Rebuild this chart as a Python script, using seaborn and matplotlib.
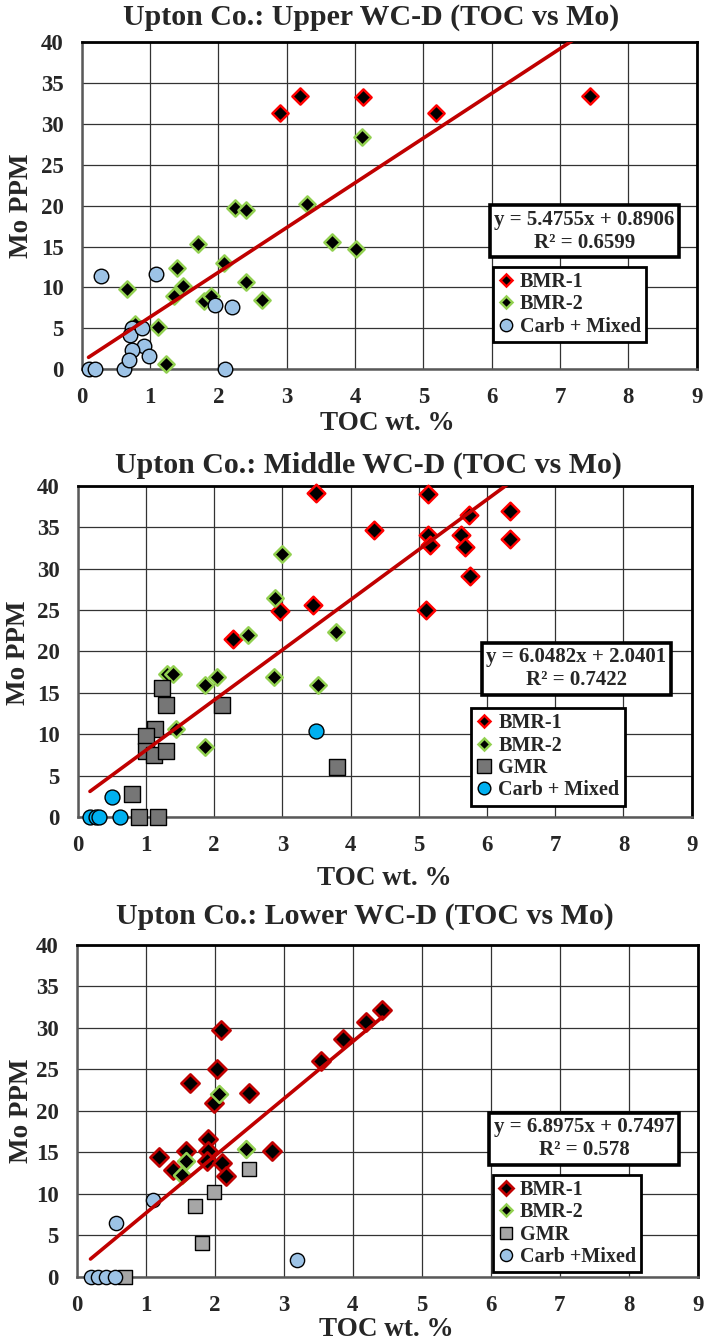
import matplotlib
matplotlib.use("Agg")
import matplotlib.pyplot as plt
import numpy as np
import pandas as pd
import seaborn as sns
from matplotlib.lines import Line2D

sns.set_theme(style="white")
plt.rcParams['font.family'] = ['Liberation Serif', 'DejaVu Serif']
plt.rcParams['font.weight'] = 'bold'

# ---------------- Upper WC-D ----------------
up_bmr1_toc = [2.90, 3.20, 4.11, 5.19, 7.44]
up_bmr1_mo = [31.3, 33.4, 33.3, 31.3, 33.4]
up_bmr2_toc = [0.66, 0.78, 1.12, 1.23, 1.35, 1.39, 1.48, 1.70, 1.79, 1.89, 2.08,
               2.25, 2.40, 2.40, 2.64, 3.29, 3.66, 4.01, 4.10]
up_bmr2_mo = [9.8, 5.5, 5.2, 0.6, 9.0, 12.4, 10.2, 15.3, 8.3, 8.9, 13.0,
              19.7, 19.5, 10.65, 8.5, 20.2, 15.5, 14.65, 28.4]
up_carb_toc = [0.10, 0.20, 0.62, 2.10, 0.28, 1.08, 1.95, 2.20, 0.73, 0.70,
               0.88, 0.91, 0.74, 0.69, 0.985]
up_carb_mo = [0.0, 0.0, 0.0, 0.0, 11.4, 11.6, 7.8, 7.55, 5.0, 4.2,
              5.0, 2.8, 2.3, 1.1, 1.6]
up_fit = (5.4755, 0.8906, 0.6599)

# ---------------- Middle WC-D ----------------
mid_bmr1_toc = [3.50, 3.455, 2.96, 2.28, 5.13, 4.35, 5.14, 5.17, 5.11, 5.62,
                5.68, 5.73, 5.75, 6.33, 6.34]
mid_bmr1_mo = [39.1, 25.6, 24.9, 21.5, 39.0, 34.6, 34.1, 32.8, 25.0, 34.05,
               32.6, 36.4, 29.1, 36.95, 33.6]
mid_bmr2_toc = [2.99, 2.89, 2.50, 3.78, 2.04, 1.86, 2.88, 3.52, 1.31, 1.39, 1.44, 1.86]
mid_bmr2_mo = [31.8, 26.5, 21.95, 22.35, 16.9, 15.9, 16.9, 16.0, 17.25, 17.3, 10.65, 8.45]
mid_gmr_toc = [1.23, 1.29, 2.12, 1.13, 1.00, 1.00, 1.12, 1.29, 3.80, 0.79, 0.90, 1.18]
mid_gmr_mo = [15.6, 13.6, 13.6, 10.6, 9.8, 8.0, 7.5, 8.0, 6.1, 2.8, 0.0, 0.0]
mid_carb_toc = [3.50, 0.51, 0.18, 0.27, 0.31, 0.62]
mid_carb_mo = [10.4, 2.4, 0.0, 0.0, 0.0, 0.0]
mid_fit = (6.0482, 2.0401, 0.7422)

# ---------------- Lower WC-D ----------------
low_bmr1_toc = [2.09, 2.04, 1.64, 2.49, 1.99, 1.90, 1.91, 1.59, 1.89, 2.10,
                1.20, 1.39, 2.16, 2.83, 3.54, 3.855, 4.19, 4.43]
low_bmr1_mo = [29.8, 25.1, 23.4, 22.1, 21.0, 16.6, 15.2, 15.2, 13.96, 13.7,
               14.4, 12.9, 12.1, 15.2, 26.0, 28.6, 30.7, 32.2]
low_bmr2_toc = [2.06, 1.59, 1.52, 2.45]
low_bmr2_mo = [22.0, 13.9, 12.3, 15.4]
low_gmr_toc = [2.50, 1.99, 1.72, 1.81, 0.70]
low_gmr_mo = [13.0, 10.2, 8.5, 4.0, 0.0]
low_carb_toc = [1.11, 0.57, 3.20, 0.20, 0.31, 0.43, 0.55]
low_carb_mo = [9.25, 6.5, 2.0, 0.0, 0.0, 0.0, 0.0]
low_fit = (6.8975, 0.7497, 0.578)

titles = ["Upton Co.: Upper WC-D (TOC vs Mo)",
          "Upton Co.: Middle WC-D (TOC vs Mo)",
          "Upton Co.: Lower WC-D (TOC vs Mo)"]

# style per group: (label, marker, size, face, edge, linewidth)
styles_upper = [
    ("BMR-1", "D", 68, "black", "#FF0000", 1.8),
    ("BMR-2", "D", 68, "black", "#92D050", 1.8),
    ("Carb + Mixed", "o", 110, "#9DC3E6", "black", 1.0),
]
styles_middle = [
    ("BMR-1", "D", 80, "black", "#FF0000", 1.8),
    ("BMR-2", "D", 70, "black", "#92D050", 1.8),
    ("GMR", "s", 135, "#767676", "black", 1.0),
    ("Carb + Mixed", "o", 115, "#00B0F0", "black", 1.0),
]
styles_lower = [
    ("BMR-1", "D", 85, "black", "#C00000", 2.0),
    ("BMR-2", "D", 75, "black", "#92D050", 1.8),
    ("GMR", "s", 115, "#A6A6A6", "black", 1.0),
    ("Carb +Mixed", "o", 105, "#9DC3E6", "black", 1.0),
]

panels = [
    dict(title=titles[0], groups=[(up_bmr1_toc, up_bmr1_mo), (up_bmr2_toc, up_bmr2_mo),
                                  (up_carb_toc, up_carb_mo)],
         styles=styles_upper, fit=up_fit,
         rect=[0.1159, 0.7252, 0.8723, 0.2433], title_xy=(0.526, 0.9866),
         ylab_xy=(0.031, 0.847), xlab_xy=(0.550, 0.685),
         eq_xy=(0.8176, 0.4224), leg_xy=(0.668, 0.313)),
    dict(title=titles[1], groups=[(mid_bmr1_toc, mid_bmr1_mo), (mid_bmr2_toc, mid_bmr2_mo),
                                  (mid_gmr_toc, mid_gmr_mo), (mid_carb_toc, mid_carb_mo)],
         styles=styles_middle, fit=mid_fit,
         rect=[0.1102, 0.3914, 0.8709, 0.2470], title_xy=(0.523, 0.6538),
         ylab_xy=(0.026, 0.5141), xlab_xy=(0.545, 0.3462),
         eq_xy=(0.812, 0.448), leg_xy=(0.641, 0.329)),
    dict(title=titles[2], groups=[(low_bmr1_toc, low_bmr1_mo), (low_bmr2_toc, low_bmr2_mo),
                                  (low_gmr_toc, low_gmr_mo), (low_carb_toc, low_carb_mo)],
         styles=styles_lower, fit=low_fit,
         rect=[0.1088, 0.0494, 0.8808, 0.2470], title_xy=(0.518, 0.3174),
         ylab_xy=(0.030, 0.1727), xlab_xy=(0.548, 0.0097),
         eq_xy=(0.817, 0.416), leg_xy=(0.670, 0.3066)),
]

fig = plt.figure(figsize=(7.05, 13.43), dpi=100)

for p in panels:
    ax = fig.add_axes(p["rect"])
    ax.set_facecolor("white")
    ax.set_axisbelow(True)

    frames = []
    for (xs, ys), st in zip(p["groups"], p["styles"]):
        frames.append(pd.DataFrame({"TOC": xs, "Mo": ys, "facies": st[0]}))
    df = pd.concat(frames, ignore_index=True)

    handles = []
    for st in p["styles"]:
        label, marker, size, face, edge, lw = st
        sub = df[df["facies"] == label]
        sns.scatterplot(data=sub, x="TOC", y="Mo", ax=ax, marker=marker, s=size,
                        color=face, edgecolor=edge, linewidth=lw, clip_on=False,
                        zorder=3, legend=False)
        handles.append(Line2D([], [], linestyle="none", marker=marker,
                              markersize=np.sqrt(size) * (0.72 if marker == "D" else 0.85),
                              markerfacecolor=face, markeredgecolor=edge,
                              markeredgewidth=lw, label=label))

    # linear trend over the data range
    slope, intercept, r2 = p["fit"]
    xline = np.linspace(df["TOC"].min(), df["TOC"].max(), 50)
    sns.lineplot(x=xline, y=slope * xline + intercept, ax=ax, color="#C00000",
                 linewidth=2.6, zorder=4)

    ax.set_xlim(0, 9)
    ax.set_ylim(0, 40)
    ax.set_xticks(range(0, 10))
    ax.set_yticks(range(0, 45, 5))
    ax.grid(True, color="#333333", linewidth=0.9)
    ax.tick_params(axis="both", length=0, labelsize=16.5, pad=13)
    for lab in ax.get_xticklabels() + ax.get_yticklabels():
        lab.set_fontweight("bold")
    ax.set_xlabel("")
    ax.set_ylabel("")
    for side in ("top", "right"):
        ax.spines[side].set_color("black")
        ax.spines[side].set_linewidth(2.0)
    for side in ("left", "bottom"):
        ax.spines[side].set_color("#595959")
        ax.spines[side].set_linewidth(1.8)

    eq = f"y = {slope:.4f}x + {intercept:.4f}\nR\u00b2 = {r2:g}"
    ax.text(p["eq_xy"][0], p["eq_xy"][1], eq, transform=ax.transAxes,
            ha="center", va="center", multialignment="center", fontsize=15,
            fontweight="bold", zorder=6, linespacing=1.2,
            bbox=dict(boxstyle="square,pad=0.22", facecolor="white",
                      edgecolor="black", linewidth=2.6))

    leg = ax.legend(handles=handles, loc="upper left", bbox_to_anchor=p["leg_xy"],
                    frameon=True, fancybox=False, framealpha=1, edgecolor="black",
                    fontsize=14.5, handlelength=0.8, handletextpad=0.3,
                    labelspacing=0.12, borderpad=0.25, borderaxespad=0)
    leg.get_frame().set_linewidth(2.0)
    leg.set_zorder(6)
    for t in leg.get_texts():
        t.set_fontweight("bold")

    fig.text(p["title_xy"][0], p["title_xy"][1], p["title"], ha="center",
             va="center", fontsize=21.5, fontweight="bold")
    fig.text(p["ylab_xy"][0], p["ylab_xy"][1], "Mo PPM", ha="center", va="center",
             rotation=90, fontsize=19.5, fontweight="bold")
    fig.text(p["xlab_xy"][0], p["xlab_xy"][1], "TOC wt. %", ha="center",
             va="center", fontsize=19.5, fontweight="bold")

fig.savefig("out.png", dpi=100, facecolor="white")
